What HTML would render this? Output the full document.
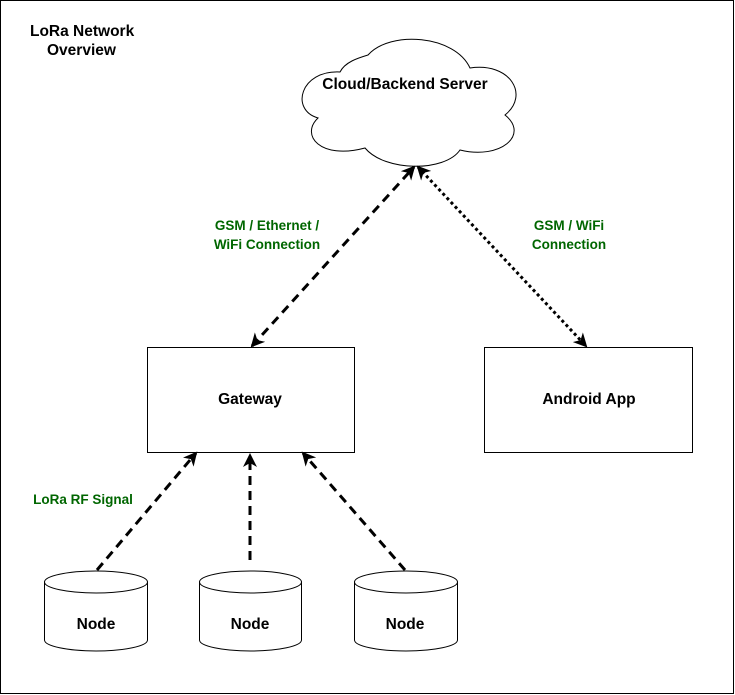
<!DOCTYPE html>
<html><head><style>
body{margin:0;background:#fff;}
svg{display:block;font-family:"Liberation Sans",Helvetica,sans-serif;font-weight:bold;}
</style></head><body>
<svg width="735" height="695" viewBox="0 0 735 695">
<defs>
<marker id="a" markerWidth="14" markerHeight="14" refX="12" refY="7" orient="auto-start-reverse" markerUnits="userSpaceOnUse">
<path d="M0,0 L14,7 L0,14 L4,7 Z" fill="#000"/></marker>
</defs>
<rect x="0.5" y="0.5" width="733" height="693" fill="#fff" stroke="#000"/>
<text x="30" y="36" font-size="15.5">LoRa Network</text>
<text x="47" y="55" font-size="15.5">Overview</text>
<path d="M340,72 C300,70 290,110 318,118 C300,135 320,160 365,148 C385,172 445,172 460,150 C500,160 530,135 505,115 C530,95 510,62 470,68 C455,35 390,30 368,55 C358,58 345,62 340,72 Z" fill="#fff" stroke="#000" stroke-width="1"/>
<text x="405" y="89" font-size="15.5" text-anchor="middle">Cloud/Backend Server</text>
<rect x="147.5" y="347.5" width="207" height="105" fill="#fff" stroke="#000"/>
<text x="250" y="404" font-size="15.5" text-anchor="middle">Gateway</text>
<rect x="484.5" y="347.5" width="208" height="105" fill="#fff" stroke="#000"/>
<text x="589" y="404" font-size="15.5" text-anchor="middle">Android App</text>
<g fill="#fff" stroke="#000">
<path d="M44.5,582 A51.5,11 0 0 1 147.5,582 L147.5,640 A51.5,11 0 0 1 44.5,640 Z"/>
<path d="M44.5,582 A51.5,11 0 0 0 147.5,582" fill="none"/>
<path d="M199.5,582 A51,11 0 0 1 301.5,582 L301.5,640 A51,11 0 0 1 199.5,640 Z"/>
<path d="M199.5,582 A51,11 0 0 0 301.5,582" fill="none"/>
<path d="M354.5,582 A51.5,11 0 0 1 457.5,582 L457.5,640 A51.5,11 0 0 1 354.5,640 Z"/>
<path d="M354.5,582 A51.5,11 0 0 0 457.5,582" fill="none"/>
</g>
<text x="96" y="629" font-size="15.5" text-anchor="middle">Node</text>
<text x="250" y="629" font-size="15.5" text-anchor="middle">Node</text>
<text x="405" y="629" font-size="15.5" text-anchor="middle">Node</text>
<g stroke="#000" stroke-width="3" fill="none">
<line x1="97" y1="570" x2="196" y2="453" stroke-dasharray="9,6" marker-end="url(#a)"/>
<line x1="250" y1="560" x2="250" y2="455" stroke-dasharray="9,6" marker-end="url(#a)"/>
<line x1="405" y1="570" x2="303" y2="453" stroke-dasharray="9,6" marker-end="url(#a)"/>
<line x1="252" y1="346" x2="414" y2="167" stroke-dasharray="9,6" marker-start="url(#a)" marker-end="url(#a)"/>
<line x1="418" y1="167" x2="586" y2="346" stroke-dasharray="3,3" marker-start="url(#a)" marker-end="url(#a)"/>
</g>
<g fill="#006600" font-size="13.5" text-anchor="middle">
<rect x="205" y="214" width="122" height="40" fill="#fff"/>
<text x="267" y="230">GSM / Ethernet /</text>
<text x="267" y="249">WiFi Connection</text>
<rect x="525" y="214" width="90" height="40" fill="#fff"/>
<text x="569" y="230">GSM / WiFi</text>
<text x="569" y="249">Connection</text>
<text x="83" y="504">LoRa RF Signal</text>
</g>
</svg>
</body></html>
